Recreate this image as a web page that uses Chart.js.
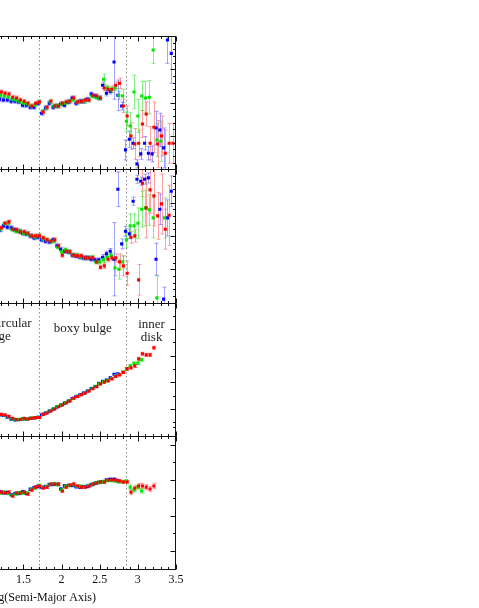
<!DOCTYPE html>
<html><head><meta charset="utf-8">
<script src="https://cdn.jsdelivr.net/npm/chart.js@4.4.1/dist/chart.umd.min.js"></script>
<style>
html,body{margin:0;padding:0;background:#fff;overflow:hidden;width:479px;height:608px;}
#wrap{position:absolute;left:-101px;top:0;width:300px;height:608px;}
</style></head><body>
<div id="wrap"><canvas id="c"></canvas></div>
<script>
// ---- data (log semi-major axis grid shared by all bands) ----
const logA = [1.20,1.25,1.30,1.35,1.40,1.45,1.50,1.55,1.60,1.65,1.70,1.75,1.80,1.85,1.90,1.95,2.00,2.05,2.10,2.15,2.20,2.25,2.30,2.35,2.40,2.45,2.50,2.55,2.60,2.65,2.70,2.75,2.80,2.85,2.90,2.95,3.00,3.05,3.10,3.15,3.20,3.25,3.30,3.35,3.40,3.45];
const xTickValues = [0,0.5,1,1.5,2,2.5,3,3.5];
const xTitle = 'log(Semi-Major Axis)';
const regionBounds = [1.70, 2.85];
const regionLabels = ['circular','bulge','boxy bulge','inner','disk'];

// panel 1
const p1Red = [1.6,1.4,1.3,0.8,0.7,0.4,0.2,-0.1,-0.5,-0.1, 0.1,-1.4,-0.7,0.2,-0.5,-0.5,-0.1,0.1,0.2,0.7, 0.1,0.2,0.4,0.4,1.1,1.0,0.7,2.2,2.0,2.0, 2.6,2.9,-0.5,-2.0,-5.0,-6.2,-6.1,-3.2,-1.7,-6.1, -3.7,-6.2,-5.0,-7.6,-6.1,-6.1];
const p1RedErr = [0.3,0.3,0.3,0.3,0.3,0.3,0.3,0.3,0.3,0.3, 0.3,0.3,0.3,0.3,0.3,0.3,0.3,0.3,0.3,0.3, 0.3,0.3,0.3,0.3,0.3,0.3,0.3,0.4,0.4,0.5, 0.5,0.8,1.0,1.5,2.0,2.3,2.0,2.0,1.8,2.5, 3.8,3.5,3.0,3.5,3.0,3.0];
const p1Green = [1.1,1.0,0.8,0.5,0.4,0.2,-0.1,-0.2,-0.5,-0.4, 0.1,-1.3,-0.8,0.1,-0.5,-0.5,-0.2,-0.1,0.2,0.4, 0.1,0.2,0.2,0.4,1.0,0.8,0.7,3.5,2.2,1.9, 2.2,1.1,1.0,-2.8,-3.5,1.6,-2.0,1.0,0.7,0.8, 7.9,-5.6,-5.8,null,null,null];
const p1GreenErr = [0.3,0.3,0.3,0.3,0.3,0.3,0.3,0.3,0.3,0.3, 0.3,0.3,0.3,0.3,0.3,0.3,0.3,0.3,0.3,0.3, 0.3,0.3,0.3,0.3,0.3,0.3,0.3,0.8,0.4,0.4, 0.4,0.6,1.0,1.5,2.0,2.5,2.5,2.2,2.5,2.5, 2.0,2.5,3.0,null,null,null];
const p1Blue = [0.5,0.4,0.4,0.2,0.2,0.1,-0.4,-0.4,-0.7,-0.7, -0.1,-1.6,-0.8,-0.1,-0.7,-0.5,-0.2,-0.4,0.1,0.7, -0.1,0.2,0.2,0.5,1.3,1.0,0.7,2.6,1.4,1.7, 6.1,1.1,-0.5,-7.1,-5.5,-6.1,-9.2,-7.7,-6.1,-7.6, -7.7,-3.8,-4.1,-6.8,9.4,7.4];
const p1BlueErr = [0.3,0.3,0.3,0.3,0.3,0.3,0.3,0.3,0.3,0.3, 0.3,0.3,0.3,0.3,0.3,0.3,0.3,0.3,0.3,0.3, 0.3,0.3,0.3,0.3,0.3,0.3,0.3,0.5,0.4,0.4, 5.6,2.3,0.6,1.5,1.2,0.8,0.6,0.8,1.0,1.0, 1.2,2.5,2.5,3.0,3.5,4.5];

// panel 2
const p2Red = [1.2,1.9,2.1,1.0,0.9,0.6,0.6,0.4,0.0,0.0, 0.0,-0.3,-0.6,-0.8,-0.6,-1.5,-2.9,-2.3,-2.4,-2.9, -3.0,-3.0,-3.3,-3.3,-3.3,-3.9,-4.7,-4.5,-3.5,-3.3, -3.3,-3.9,-4.5,-5.6,-0.2,0.0,-6.6,7.9,4.2,6.9, 6.0,3.0,4.8,1.0,3.1,null];
const p2RedErr = [0.3,0.3,0.3,0.3,0.3,0.3,0.3,0.3,0.3,0.3, 0.3,0.3,0.3,0.3,0.3,0.3,0.3,0.3,0.3,0.3, 0.3,0.3,0.3,0.3,0.3,0.3,0.3,0.4,0.4,0.4, 0.6,1.2,1.5,1.8,0.9,0.9,2.3,2.0,4.5,3.5, 4.5,3.5,4.5,3.0,4.5,null];
const p2Green = [1.0,1.8,1.9,1.0,0.7,0.7,0.4,0.3,0.0,-0.2, 0.0,-0.5,-0.6,-0.8,-0.8,-1.7,-2.4,-2.1,-2.4,-2.9, -2.9,-3.2,-3.3,-3.3,-3.2,-3.9,-3.9,-3.6,-3.2,-2.9, -4.8,-5.0,-3.9,-0.6,1.5,1.5,1.9,4.0,4.2,3.9, 2.7,-9.3,null,2.7,null,null];
const p2GreenErr = [0.3,0.3,0.3,0.3,0.3,0.3,0.3,0.3,0.3,0.3, 0.3,0.3,0.3,0.3,0.3,0.3,0.3,0.3,0.3,0.3, 0.3,0.3,0.3,0.3,0.3,0.3,0.3,0.4,0.4,0.4, 1.2,1.5,0.9,1.2,1.8,1.8,2.3,2.7,2.7,2.3, 3.0,3.3,null,3.0,null,null];
const p2Blue = [0.9,1.5,1.3,1.2,0.9,0.7,0.4,0.3,0.0,-0.3, -0.2,-0.6,-0.8,-0.9,-0.6,-1.5,-2.0,-2.3,-2.4,-2.9, -3.0,-3.2,-3.3,-3.3,-3.5,-3.6,-3.6,-3.2,-2.7,-2.3, -3.5,7.0,-1.2,0.7,0.3,5.2,8.5,8.2,8.5,8.7, null,-3.5,4.0,-9.5,2.7,6.7];
const p2BlueErr = [0.3,0.3,0.3,0.3,0.3,0.3,0.3,0.3,0.3,0.3, 0.3,0.3,0.3,0.3,0.3,0.3,0.3,0.3,0.3,0.3, 0.3,0.3,0.3,0.3,0.3,0.3,0.3,0.4,0.4,0.4, 5.5,2.6,0.75,0.75,0.75,0.6,0.6,0.6,0.75,0.75, null,2.4,2.3,1.8,2.7,2.3];

// panel 3
const p3Red = [1.60,1.56,1.45,1.30,1.22,1.22,1.30,1.26,1.31,1.36, 1.37,1.60,1.71,1.86,2.01,2.18,2.31,2.46,2.61,2.82, 2.95,3.09,3.21,3.36,3.54,3.69,3.89,4.02,4.12,4.27, 4.45,4.57,4.76,5.02,5.10,5.24,5.77,6.15,6.07,6.07, 6.60,null,null,null,null,null];
const p3RedErr = [0.06,0.06,0.06,0.06,0.06,0.06,0.06,0.06,0.06,0.06, 0.06,0.06,0.06,0.06,0.06,0.06,0.06,0.06,0.06,0.06, 0.06,0.06,0.06,0.06,0.06,0.06,0.06,0.06,0.06,0.06, 0.06,0.06,0.06,0.12,0.12,0.12,0.12,0.12,0.12,0.12, 0.12,null,null,null,null,null];
const p3Green = [1.58,1.55,1.42,1.28,1.20,1.24,1.28,1.25,1.33,1.35, 1.40,1.62,1.73,1.88,2.03,2.20,2.33,2.48,2.63,2.80, 2.97,3.11,3.23,3.38,3.56,3.71,3.91,4.04,4.15,4.30, 4.50,4.60,4.78,5.02,5.24,5.43,5.45,5.70,null,null, null,null,null,null,null,null];
const p3GreenErr = [0.06,0.06,0.06,0.06,0.06,0.06,0.06,0.06,0.06,0.06, 0.06,0.06,0.06,0.06,0.06,0.06,0.06,0.06,0.06,0.06, 0.06,0.06,0.06,0.06,0.06,0.06,0.06,0.06,0.06,0.06, 0.06,0.06,0.06,0.10,0.10,0.10,0.10,0.10,null,null, null,null,null,null,null,null];
const p3Blue = [1.57,1.52,1.40,1.25,1.18,1.20,1.27,1.24,1.30,1.33, 1.38,1.58,1.70,1.85,2.00,2.17,2.30,2.45,2.60,2.80, 2.94,3.08,3.20,3.36,3.55,3.70,3.93,4.08,4.18,4.35, 4.62,4.64,null,null,null,null,null,null,null,null, null,null,null,null,null,null];
const p3BlueErr = [0.06,0.06,0.06,0.06,0.06,0.06,0.06,0.06,0.06,0.06, 0.06,0.06,0.06,0.06,0.06,0.06,0.06,0.06,0.06,0.06, 0.06,0.06,0.06,0.06,0.06,0.06,0.06,0.06,0.06,0.06, 0.06,0.06,null,null,null,null,null,null,null,null, null,null,null,null,null,null];

// panel 4
const p4Red = [0.133,0.128,0.133,0.111,0.128,0.128,0.133,0.122,0.145,0.161, 0.167,0.156,0.161,0.178,0.178,0.178,0.139,0.161,0.173,0.178, 0.167,0.161,0.161,0.167,0.178,0.184,0.190,0.190,0.201,0.201, 0.201,0.195,0.190,0.190,0.133,0.156,0.167,0.167,0.161,0.150, 0.167,null,null,null,null,null];
const p4RedErr = [0.008,0.008,0.008,0.008,0.008,0.008,0.008,0.008,0.008,0.008, 0.008,0.008,0.008,0.008,0.008,0.008,0.008,0.008,0.008,0.008, 0.008,0.008,0.008,0.008,0.008,0.008,0.008,0.008,0.008,0.008, 0.008,0.008,0.008,0.008,0.015,0.015,0.015,0.015,0.015,0.015, 0.015,null,null,null,null,null];
const p4Green = [0.128,0.133,0.125,0.115,0.122,0.130,0.128,0.128,0.150,0.156, 0.170,0.160,0.165,0.175,0.180,0.175,0.145,0.165,0.170,0.175, 0.165,0.165,0.160,0.170,0.175,0.185,0.188,0.192,0.198,0.198, 0.195,0.190,0.192,0.195,0.161,0.145,0.161,0.139,null,null, null,null,null,null,null,null];
const p4GreenErr = [0.008,0.008,0.008,0.008,0.008,0.008,0.008,0.008,0.008,0.008, 0.008,0.008,0.008,0.008,0.008,0.008,0.008,0.008,0.008,0.008, 0.008,0.008,0.008,0.008,0.008,0.008,0.008,0.008,0.008,0.008, 0.008,0.008,0.008,0.008,0.012,0.012,0.012,0.012,null,null, null,null,null,null,null,null];
const p4Blue = [0.135,0.130,0.130,0.118,0.125,0.125,0.135,0.125,0.148,0.158, 0.165,0.160,0.163,0.175,0.176,0.176,0.150,0.168,0.170,0.170, 0.163,0.160,0.163,0.165,0.175,0.182,0.188,0.192,0.200,0.205, 0.205,0.195,null,null,null,null,null,null,null,null, null,null,null,null,null,null];
const p4BlueErr = [0.008,0.008,0.008,0.008,0.008,0.008,0.008,0.008,0.008,0.008, 0.008,0.008,0.008,0.008,0.008,0.008,0.008,0.008,0.008,0.008, 0.008,0.008,0.008,0.008,0.008,0.008,0.008,0.008,0.008,0.008, 0.008,0.008,null,null,null,null,null,null,null,null, null,null,null,null,null,null];

// ---- layout / style (not data) ----
const panels = [
  {id:'p1', min:-10, max:10, minor:1, major:5, weight:4},
  {id:'p2', min:-10, max:10, minor:1, major:5, weight:3},
  {id:'p3', min:0, max:10, minor:1, major:2, weight:2},
  {id:'p4', min:-0.3, max:0.45, minor:0.1, major:0.2, weight:1}
];
const bands = {
  red:   {color:'#ff0000', bar:'rgba(255,70,70,0.5)', dx: 0.010},
  green: {color:'#00e600', bar:'rgba(40,225,40,0.55)', dx: 0.000},
  blue:  {color:'#0000ff', bar:'rgba(70,70,255,0.5)', dx:-0.012}
};
const series = [
  ['p1','red',p1Red,p1RedErr],['p1','green',p1Green,p1GreenErr],['p1','blue',p1Blue,p1BlueErr],
  ['p2','red',p2Red,p2RedErr],['p2','green',p2Green,p2GreenErr],['p2','blue',p2Blue,p2BlueErr],
  ['p3','red',p3Red,p3RedErr],['p3','green',p3Green,p3GreenErr],['p3','blue',p3Blue,p3BlueErr],
  ['p4','red',p4Red,p4RedErr],['p4','green',p4Green,p4GreenErr],['p4','blue',p4Blue,p4BlueErr]
];
const annotations = [
  {text:regionLabels[0], x:1.608, y:8.15, align:'right'},
  {text:regionLabels[1], x:1.335, y:7.15, align:'right'},
  {text:regionLabels[2], x:2.278, y:7.82, align:'center'},
  {text:regionLabels[3], x:3.18, y:8.08, align:'center'},
  {text:regionLabels[4], x:3.18, y:7.12, align:'center'}
];
const SERIF = '"Liberation Serif", "Times New Roman", serif';

const datasets = series.map(([pid, band, vals, errs]) => ({
  yAxisID: pid,
  barColor: bands[band].bar,
  data: logA.map((x, i) => ({x: x + bands[band].dx, y: vals[i], e: errs[i]})).filter(p => p.y !== null),
  backgroundColor: bands[band].color,
  borderWidth: 0,
  pointStyle: 'rect',
  pointRadius: 2.2,
  showLine: false
}));

const decor = {
  id: 'decor',
  beforeDatasetsDraw(chart) {
    const ctx = chart.ctx, xs = chart.scales.x, area = chart.chartArea;
    ctx.save();
    ctx.strokeStyle = '#8a8a8a'; ctx.lineWidth = 1; ctx.setLineDash([1.5, 2.5]);
    regionBounds.forEach(b => {
      const px = Math.round(xs.getPixelForValue(b)) + 0.5;
      ctx.beginPath(); ctx.moveTo(px, area.top); ctx.lineTo(px, area.bottom); ctx.stroke();
    });
    ctx.setLineDash([]);
    chart.data.datasets.forEach(ds => {
      const ys = chart.scales[ds.yAxisID];
      ctx.strokeStyle = ds.barColor;
      ds.data.forEach(p => {
        if (p.e == null) return;
        const px = Math.round(xs.getPixelForValue(p.x)) + 0.5;
        let y1 = ys.getPixelForValue(p.y - p.e), y2 = ys.getPixelForValue(p.y + p.e);
        const c1 = y1 > ys.bottom, c2 = y2 < ys.top;
        y1 = Math.min(y1, ys.bottom); y2 = Math.max(y2, ys.top);
        ctx.beginPath(); ctx.moveTo(px, y1); ctx.lineTo(px, y2);
        if (!c1) { ctx.moveTo(px - 2, y1); ctx.lineTo(px + 2, y1); }
        if (!c2) { ctx.moveTo(px - 2, y2); ctx.lineTo(px + 2, y2); }
        ctx.stroke();
      });
    });
    ctx.restore();
  },
  afterDatasetsDraw(chart) {
    const ctx = chart.ctx, xs = chart.scales.x, area = chart.chartArea;
    ctx.save();
    ctx.strokeStyle = '#111'; ctx.lineWidth = 1;
    const L = Math.round(area.left) + 0.5, R = Math.round(area.right) - 0.5;
    panels.forEach(p => {
      const ys = chart.scales[p.id];
      const T = Math.round(ys.top) + 0.5, B = Math.round(ys.bottom) + 0.5;
      ctx.strokeRect(L, T, R - L, B - T);
      ctx.beginPath();
      for (let k = 0; k <= 35; k++) {
        const v = k / 10;
        const px = Math.round(xs.getPixelForValue(v)) + 0.5;
        const len = (k % 5 === 0) ? 5 : 2.5;
        ctx.moveTo(px, T); ctx.lineTo(px, T + len);
        ctx.moveTo(px, B); ctx.lineTo(px, B - len);
      }
      const n = Math.round((p.max - p.min) / p.minor);
      for (let k = 0; k <= n; k++) {
        const v = p.min + k * p.minor;
        const r = v / p.major;
        const isMajor = Math.abs(r - Math.round(r)) < 1e-6;
        const py = Math.round(ys.getPixelForValue(v)) + 0.5;
        const len = isMajor ? 5 : 2.5;
        ctx.moveTo(R, py); ctx.lineTo(R - len, py);
        ctx.moveTo(L, py); ctx.lineTo(L + len, py);
      }
      ctx.stroke();
    });
    const y3 = chart.scales.p3;
    ctx.fillStyle = '#222';
    ctx.font = '13px ' + SERIF;
    ctx.textBaseline = 'alphabetic';
    annotations.forEach(a => {
      ctx.textAlign = a.align;
      ctx.fillText(a.text, xs.getPixelForValue(a.x), y3.getPixelForValue(a.y));
    });
    ctx.restore();
  }
};

const yScales = {};
panels.forEach(p => {
  yScales[p.id] = {
    type: 'linear', position: 'left', stack: 'panels', stackWeight: 1, weight: p.weight,
    min: p.min, max: p.max,
    ticks: {display: false}, grid: {display: false, drawTicks: false}, border: {display: false},
    afterFit: s => { s.width = 0; }
  };
});

new Chart(document.getElementById('c'), {
  type: 'scatter',
  data: {datasets},
  options: {
    responsive: true, maintainAspectRatio: false, animation: false, devicePixelRatio: 1,
    layout: {padding: {left: 10, right: 23, top: 36, bottom: 0}},
    plugins: {legend: {display: false}, tooltip: {enabled: false}},
    events: [],
    scales: Object.assign({
      x: {
        type: 'linear', position: 'bottom', min: 0, max: 3.5,
        afterBuildTicks: s => { s.ticks = xTickValues.map(v => ({value: v})); },
        afterFit: s => { s.height = 39; },
        ticks: {color: '#111', font: {family: SERIF, size: 12}, padding: 4, maxRotation: 0, autoSkip: false,
                callback: v => String(v)},
        grid: {display: false, drawTicks: false}, border: {display: false},
        title: {display: true, text: xTitle, color: '#111', font: {family: SERIF, size: 12}, padding: {top: 0, bottom: 3}}
      }
    }, yScales)
  },
  plugins: [decor]
});
</script>
</body></html>
